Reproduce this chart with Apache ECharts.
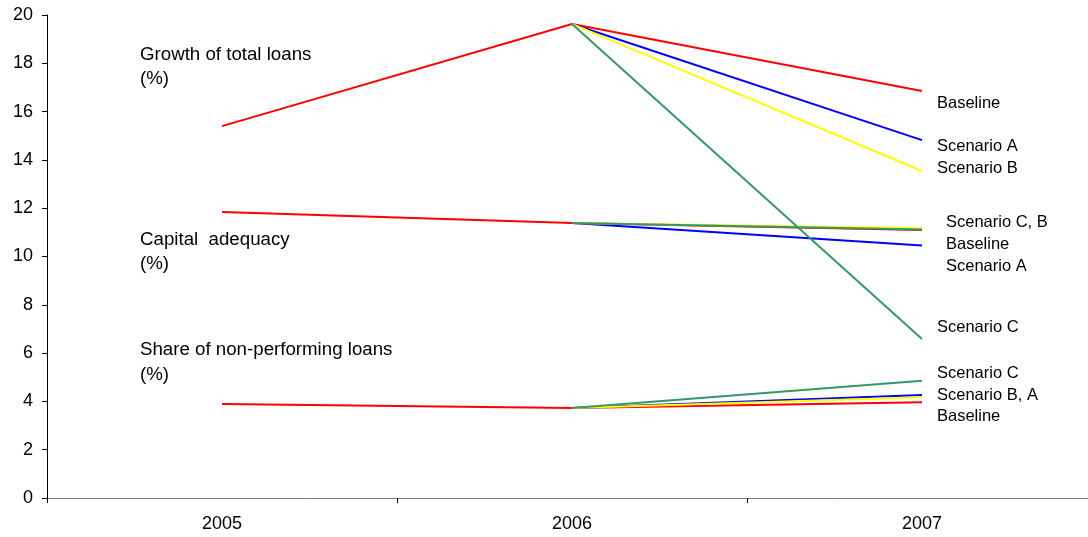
<!DOCTYPE html>
<html><head><meta charset="utf-8">
<script src="https://cdn.jsdelivr.net/npm/echarts@6/dist/echarts.min.js"></script>
<style>html,body{margin:0;padding:0;background:#fff;overflow:hidden;width:1088px;height:537px}#c{width:1097px;height:537px}</style>
</head><body><div id="c"></div>
<script>
var years = ['2005', '2006', '2007'];
var yTicks = [0, 2, 4, 6, 8, 10, 12, 14, 16, 18, 20];
// Growth of total loans (%)
var loansBaseline = [15.4, 19.63, 16.85];
var loansA = [null, 19.63, 14.82];
var loansB = [null, 19.63, 13.54];
var loansC = [null, 19.63, 6.58];
// Capital adequacy (%)
var capBaseline = [11.84, 11.39, 11.10];
var capA = [null, 11.39, 10.46];
var capB = [null, 11.39, 11.17];
var capC = [null, 11.39, 11.12];
// Share of non-performing loans (%)
var nplBaseline = [3.89, 3.73, 3.96];
var nplA = [null, 3.73, 4.27];
var nplB = [null, 3.73, 4.17];
var nplC = [null, 3.73, 4.86];

var RED = '#ff0000', BLUE = '#0000ff', YELLOW = '#ffff00', GREEN = '#339966';
function line(data, color, z) {
  return { type: 'line', data: data, showSymbol: false, symbol: 'none', z: z,
    lineStyle: { color: color, width: 2 }, itemStyle: { color: color }, animation: false };
}
var series = [
  line(loansBaseline, RED, 2), line(loansA, BLUE, 3), line(loansB, YELLOW, 4), line(loansC, GREEN, 5),
  line(capBaseline, RED, 2), line(capA, BLUE, 3), line(capB, YELLOW, 4), line(capC, GREEN, 5),
  line(nplBaseline, RED, 2), line(nplA, BLUE, 3), line(nplB, YELLOW, 4), line(nplC, GREEN, 5)
];
var FONT = 'Liberation Sans, Arial, sans-serif';
function txt(x, y, s, size) {
  return { type: 'text', x: x, y: y, silent: true, z: 10,
    style: { text: s, fill: '#000', font: size + 'px ' + FONT, align: 'left', verticalAlign: 'middle',
      textAlign: 'left', textVerticalAlign: 'middle' } };
}
var chart = echarts.init(document.getElementById('c'), null, { renderer: 'canvas' });
chart.setOption({
  animation: false,
  backgroundColor: '#fff',
  grid: { left: 47, top: 15, bottom: 39, right: 0, containLabel: false },
  xAxis: {
    type: 'category', data: years, boundaryGap: true,
    axisLine: { lineStyle: { color: '#808080', width: 1 } },
    axisTick: { show: true, length: 5, lineStyle: { color: '#000' } },
    axisLabel: { color: '#000', fontSize: 18, fontFamily: FONT, margin: 17 }
  },
  yAxis: {
    type: 'value', min: yTicks[0], max: yTicks[yTicks.length - 1], interval: 2,
    axisLine: { show: true, lineStyle: { color: '#000', width: 1 } },
    axisTick: { show: true, length: 5, lineStyle: { color: '#000' } },
    splitLine: { show: false },
    axisLabel: { color: '#000', fontSize: 18, fontFamily: FONT, margin: 14 }
  },
  graphic: [
    txt(140, 55, 'Growth of total loans', 18.7), txt(140, 79, '(%)', 18.7),
    txt(140, 240, 'Capital  adequacy', 18.7), txt(140, 264, '(%)', 18.7),
    txt(140, 350, 'Share of non-performing loans', 18.7), txt(140, 375, '(%)', 18.7),
    txt(937, 103, 'Baseline', 16.5),
    txt(937, 146, 'Scenario A', 16.5),
    txt(937, 168, 'Scenario B', 16.5),
    txt(946, 222, 'Scenario C, B', 16.5),
    txt(946, 244, 'Baseline', 16.5),
    txt(946, 266, 'Scenario A', 16.5),
    txt(937, 327, 'Scenario C', 16.5),
    txt(937, 373, 'Scenario C', 16.5),
    txt(937, 395, 'Scenario B, A', 16.5),
    txt(937, 416, 'Baseline', 16.5)
  ],
  series: series
});
</script></body></html>
